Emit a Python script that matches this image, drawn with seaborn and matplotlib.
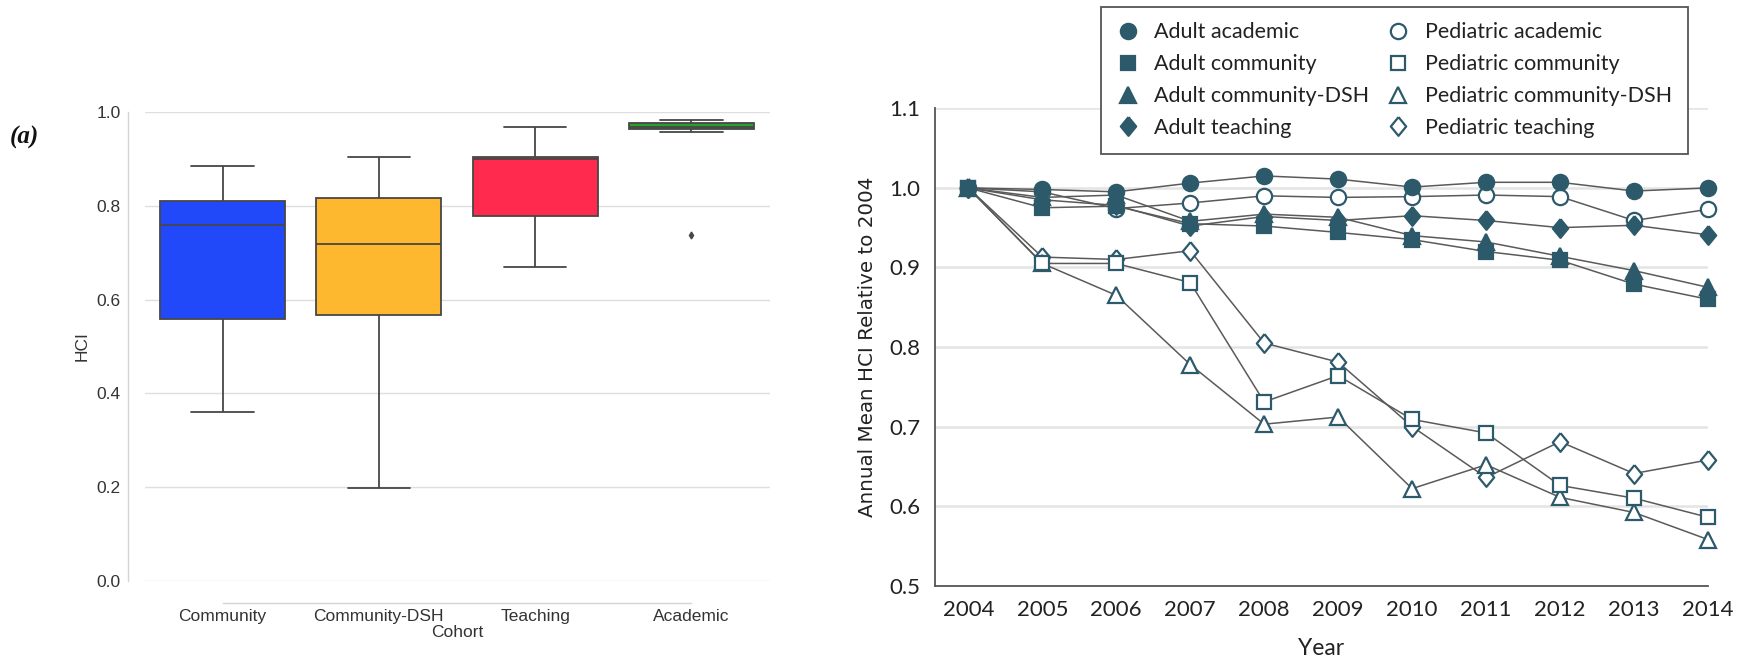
import numpy as np
import pandas as pd
import matplotlib
matplotlib.use("Agg")
import matplotlib.pyplot as plt
from matplotlib.lines import Line2D
import seaborn as sns

# ---------------- data: panel (a) boxplot ----------------
cohorts = ["Community", "Community-DSH", "Teaching", "Academic"]
community_hci = [0.360, 0.559, 0.758, 0.811, 0.885]
community_dsh_hci = [0.198, 0.567, 0.718, 0.817, 0.904]
teaching_hci = [0.670, 0.779, 0.900, 0.904, 0.967]
academic_hci = [0.737, 0.958, 0.964, 0.966, 0.969, 0.972, 0.977, 0.979, 0.982]
box_colors = ["#2149FA", "#FDB82F", "#FF2A4E", "#2CA02C"]
hci_ticks = [0.0, 0.2, 0.4, 0.6, 0.8, 1.0]

# ---------------- data: panel (b) line chart ----------------
years = [2004, 2005, 2006, 2007, 2008, 2009, 2010, 2011, 2012, 2013, 2014]
adult_academic = [1.000, 0.998, 0.995, 1.006, 1.015, 1.011, 1.001, 1.007, 1.007, 0.996, 1.000]
adult_community = [1.000, 0.975, 0.977, 0.955, 0.952, 0.944, 0.935, 0.920, 0.909, 0.879, 0.860]
adult_community_dsh = [1.000, 0.988, 0.991, 0.958, 0.967, 0.963, 0.940, 0.932, 0.914, 0.896, 0.875]
adult_teaching = [1.000, 0.985, 0.978, 0.952, 0.964, 0.959, 0.965, 0.959, 0.950, 0.953, 0.941]
pediatric_academic = [1.000, 0.995, 0.974, 0.981, 0.990, 0.988, 0.989, 0.991, 0.989, 0.959, 0.973]
pediatric_community = [1.000, 0.905, 0.905, 0.881, 0.731, 0.764, 0.709, 0.692, 0.626, 0.610, 0.586]
pediatric_community_dsh = [1.000, 0.905, 0.865, 0.778, 0.703, 0.712, 0.622, 0.652, 0.611, 0.592, 0.558]
pediatric_teaching = [1.000, 0.913, 0.910, 0.921, 0.805, 0.781, 0.700, 0.636, 0.681, 0.641, 0.658]
year_ticks = years
rel_ticks = [0.5, 0.6, 0.7, 0.8, 0.9, 1.0, 1.1]

series_labels = ["Adult academic", "Adult community", "Adult community-DSH", "Adult teaching",
                 "Pediatric academic", "Pediatric community", "Pediatric community-DSH", "Pediatric teaching"]
series_values = [adult_academic, adult_community, adult_community_dsh, adult_teaching,
                 pediatric_academic, pediatric_community, pediatric_community_dsh, pediatric_teaching]

# ---------------- style ----------------
sns.set_theme(style="whitegrid")
plt.rcParams['font.family'] = ['Liberation Sans', 'DejaVu Sans']

W, H = 1744, 660
fig = plt.figure(figsize=(W / 100, H / 100), dpi=100)

# ---------------- panel (a) ----------------
ax1 = fig.add_axes([144.5 / W, 1 - 581 / H, (769.5 - 144.5) / W, (581 - 112) / H])
df = pd.DataFrame({
    "Cohort": (["Community"] * len(community_hci) + ["Community-DSH"] * len(community_dsh_hci)
               + ["Teaching"] * len(teaching_hci) + ["Academic"] * len(academic_hci)),
    "HCI": community_hci + community_dsh_hci + teaching_hci + academic_hci,
})
sns.boxplot(data=df, x="Cohort", y="HCI", hue="Cohort", order=cohorts, hue_order=cohorts,
            palette=box_colors, saturation=1, linecolor="#474747", linewidth=1.3,
            flierprops={"marker": "d", "markerfacecolor": "#474747",
                        "markeredgecolor": "#474747", "markersize": 3.5},
            legend=False, ax=ax1)
ax1.set_ylim(0, 1.0)
ax1.set_yticks(hci_ticks)
ax1.set_yticklabels([f"{t:.1f}" for t in hci_ticks])
ax1.grid(axis="x", visible=False)
ax1.grid(axis="y", color="#dedede", linewidth=1.0)
ax1.tick_params(axis="both", length=0, labelsize=12.5, labelcolor="#333333")
ax1.tick_params(axis="y", pad=5)
ax1.tick_params(axis="x", pad=4)
ax1.set_xlabel("Cohort", fontsize=12.5, color="#333333", labelpad=1)
ax1.set_ylabel("HCI", fontsize=12.5, color="#333333", labelpad=5)
sns.despine(ax=ax1, offset={"left": 12, "bottom": 16}, trim=True)
for s in ["left", "bottom"]:
    ax1.spines[s].set_color("#d4d4d4")
    ax1.spines[s].set_linewidth(1.0)
ax1.set_facecolor("white")

fig.text(10 / W, 1 - 137 / H, "(a)", fontsize=18, fontweight="bold", fontstyle="italic",
         family=["Liberation Serif", "DejaVu Serif"], va="center", ha="left", color="#111111")

# ---------------- panel (b) ----------------
ax2 = fig.add_axes([935.0 / W, 1 - 585.7 / H, (1708.0 - 935.0) / W, (585.7 - 108.3) / H])
teal = "#2D5A6A"
line_col = "#5a5a5a"
diamond = [(0, 1), (0.82, 0), (0, -1), (-0.82, 0), (0, 1)]
markers = ["o", "s", "^", diamond, "o", "s", "^", diamond]
msizes = [11, 10, 11, 13.5, 11, 10, 11, 13.5]
filled = [True] * 4 + [False] * 4

for i, (lab, vals) in enumerate(zip(series_labels, series_values)):
    sns.lineplot(x=years, y=vals, ax=ax2, color=line_col, linewidth=1.1,
                 marker=markers[i], markersize=msizes[i],
                 markerfacecolor=teal if filled[i] else "white",
                 markeredgecolor=teal, markeredgewidth=1.6,
                 clip_on=False, zorder=3 + (7 - i) * 0.1, errorbar=None)

ax2.set_xlim(2003.55, 2014.0)
ax2.set_ylim(0.5, 1.1)
ax2.set_xticks(year_ticks)
ax2.set_xticklabels([str(y) for y in year_ticks])
ax2.set_yticks(rel_ticks)
ax2.set_yticklabels([f"{t:.1f}" for t in rel_ticks])
ax2.set_facecolor("white")
ax2.grid(axis="x", visible=False)
ax2.grid(axis="y", color="#e4e4e4", linewidth=1.8)
for s in ["top", "right"]:
    ax2.spines[s].set_visible(False)
for s in ["left", "bottom"]:
    ax2.spines[s].set_color("#555555")
    ax2.spines[s].set_linewidth(1.3)
ax2.tick_params(axis="both", direction="out", length=6.5, width=1.1, color="#555555",
                labelsize=16, labelcolor="#222222")
ax2.tick_params(axis="x", pad=4)
ax2.tick_params(axis="y", pad=4)
for lbl in ax2.get_xticklabels() + ax2.get_yticklabels():
    lbl.set_family(["Lato", "DejaVu Sans"])
ax2.set_xlabel("Year", fontsize=16.5, family=["Lato", "DejaVu Sans"], color="#222222", labelpad=13)
ax2.set_ylabel("Annual Mean HCI Relative to 2004", fontsize=14.3,
               family=["DejaVu Sans"], color="#222222", labelpad=9)

handles = []
for i in range(8):
    handles.append(Line2D([], [], linestyle="None", marker=markers[i], markersize=msizes[i],
                          markerfacecolor=teal if filled[i] else "white",
                          markeredgecolor=teal, markeredgewidth=1.6))
leg = fig.legend(handles, series_labels, ncol=2, loc="upper left",
                 bbox_to_anchor=(1100.6 / W, 1 - 6.7 / H), bbox_transform=fig.transFigure,
                 frameon=True, fancybox=False, edgecolor="#555555", facecolor="white",
                 framealpha=1, borderaxespad=0, borderpad=0.73, handlelength=1.05,
                 handletextpad=0.7, labelspacing=0.55, columnspacing=0.84,
                 prop={"family": ["Lato", "DejaVu Sans"], "size": 15.5})
leg.get_frame().set_linewidth(1.3)
for t in leg.get_texts():
    t.set_color("#222222")

fig.savefig("out.png", dpi=100, facecolor="white")
